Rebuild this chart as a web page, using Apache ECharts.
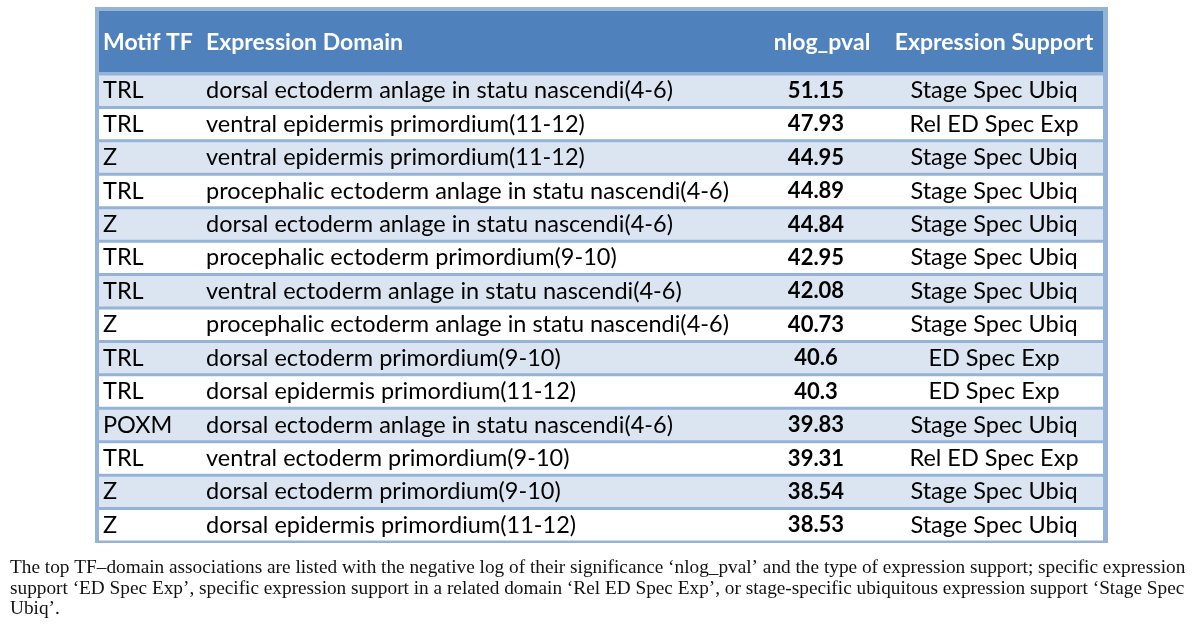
<!DOCTYPE html>
<html><head><meta charset="utf-8">
<script src="https://cdn.jsdelivr.net/npm/echarts@6/dist/echarts.min.js"></script>
<style>html,body{margin:0;padding:0;background:#fff}#c{width:1200px;height:628px}</style>
</head><body><div id="c"></div>
<script>
const headers = ['Motif TF', 'Expression Domain', 'nlog_pval', 'Expression Support'];
const motifs = ['TRL','TRL','Z','TRL','Z','TRL','TRL','Z','TRL','TRL','POXM','TRL','Z','Z'];
const domains = [
  'dorsal ectoderm anlage in statu nascendi(4-6)',
  'ventral epidermis primordium(11-12)',
  'ventral epidermis primordium(11-12)',
  'procephalic ectoderm anlage in statu nascendi(4-6)',
  'dorsal ectoderm anlage in statu nascendi(4-6)',
  'procephalic ectoderm primordium(9-10)',
  'ventral ectoderm anlage in statu nascendi(4-6)',
  'procephalic ectoderm anlage in statu nascendi(4-6)',
  'dorsal ectoderm primordium(9-10)',
  'dorsal epidermis primordium(11-12)',
  'dorsal ectoderm anlage in statu nascendi(4-6)',
  'ventral ectoderm primordium(9-10)',
  'dorsal ectoderm primordium(9-10)',
  'dorsal epidermis primordium(11-12)'
];
const nlogPvals = [51.15, 47.93, 44.95, 44.89, 44.84, 42.95, 42.08, 40.73, 40.6, 40.3, 39.83, 39.31, 38.54, 38.53];
const supports = [
  'Stage Spec Ubiq','Rel ED Spec Exp','Stage Spec Ubiq','Stage Spec Ubiq','Stage Spec Ubiq',
  'Stage Spec Ubiq','Stage Spec Ubiq','Stage Spec Ubiq','ED Spec Exp','ED Spec Exp',
  'Stage Spec Ubiq','Rel ED Spec Exp','Stage Spec Ubiq','Stage Spec Ubiq'
];
const captionLines = [
  'The top TF\u2013domain associations are listed with the negative log of their significance \u2018nlog_pval\u2019 and the type of expression support; specific expression',
  'support \u2018ED Spec Exp\u2019, specific expression support in a related domain \u2018Rel ED Spec Exp\u2019, or stage-specific ubiquitous expression support \u2018Stage Spec',
  'Ubiq\u2019.'
];

const FONT = 'Lato';
const chart = echarts.init(document.getElementById('c'), null, {renderer: 'canvas'});

// column anchors in table units (0..1004 across the table body)
const colX = [4, 107, 717, 895];

const rowIdx = motifs.map((m, i) => [0, i]);
const CAP = '19.3px "Liberation Serif"';

const option = {
  animation: false,
  backgroundColor: '#ffffff',
  grid: {left: 99, top: 74, width: 1004, height: 468, containLabel: false},
  xAxis: {type: 'value', min: 0, max: 1004, show: false},
  yAxis: {type: 'category', data: motifs.map((m, i) => String(i)), inverse: true, show: false},
  graphic: [
    {type: 'rect', z: 0, shape: {x: 95, y: 7, width: 1013, height: 536}, style: {fill: '#95B3D7'}},
    {type: 'rect', z: 1, shape: {x: 99, y: 11, width: 1004, height: 61}, style: {fill: '#4F81BD'}},
    {type: 'text', z: 5, x: 103, y: 43, style: {text: headers[0], fill: '#fff', font: 'bold 23px ' + FONT, verticalAlign: 'middle', align: 'left'}},
    {type: 'text', z: 5, x: 206, y: 43, style: {text: headers[1], fill: '#fff', font: 'bold 23px ' + FONT, verticalAlign: 'middle', align: 'left'}},
    {type: 'text', z: 5, x: 822, y: 43, style: {text: headers[2], fill: '#fff', font: 'bold 23px ' + FONT, verticalAlign: 'middle', align: 'center'}},
    {type: 'text', z: 5, x: 994, y: 43, style: {text: headers[3], fill: '#fff', font: 'bold 23px ' + FONT, verticalAlign: 'middle', align: 'center'}},
    {type: 'text', z: 5, x: 10, y: 568, style: {text: captionLines[0], fill: '#111', font: CAP, verticalAlign: 'middle'}},
    {type: 'text', z: 5, x: 10, y: 589, style: {text: captionLines[1], fill: '#111', font: CAP, verticalAlign: 'middle'}},
    {type: 'text', z: 5, x: 10, y: 609, style: {text: captionLines[2], fill: '#111', font: CAP, verticalAlign: 'middle'}}
  ],
  series: [{
    type: 'custom',
    z: 3,
    encode: {x: 0, y: 1},
    data: rowIdx,
    renderItem: function (params, api) {
      const i = api.value(1);
      const band = api.size([0, 1])[1];
      const cs = params.coordSys;
      const c0 = api.coord([colX[0], i]);
      const c1 = api.coord([colX[1], i]);
      const c2 = api.coord([colX[2], i]);
      const c3 = api.coord([colX[3], i]);
      const cy = c0[1];
      const base = {fill: '#000', font: '23.5px ' + FONT, verticalAlign: 'middle'};
      return {
        type: 'group',
        children: [
          {type: 'rect', shape: {x: cs.x, y: cy - band / 2 + 1.5, width: cs.width, height: band - 3},
           style: {fill: i % 2 === 0 ? '#DBE5F1' : '#FFFFFF'}},
          {type: 'text', x: c0[0], y: cy, style: Object.assign({}, base, {text: motifs[i], align: 'left'})},
          {type: 'text', x: c1[0], y: cy, style: Object.assign({}, base, {text: domains[i], align: 'left'})},
          {type: 'text', x: c2[0], y: cy, style: Object.assign({}, base, {text: String(nlogPvals[i]), align: 'center', font: 'bold 22px ' + FONT})},
          {type: 'text', x: c3[0], y: cy, style: Object.assign({}, base, {text: supports[i], align: 'center'})}
        ]
      };
    }
  }]
};
chart.setOption(option);
</script>
</body></html>
